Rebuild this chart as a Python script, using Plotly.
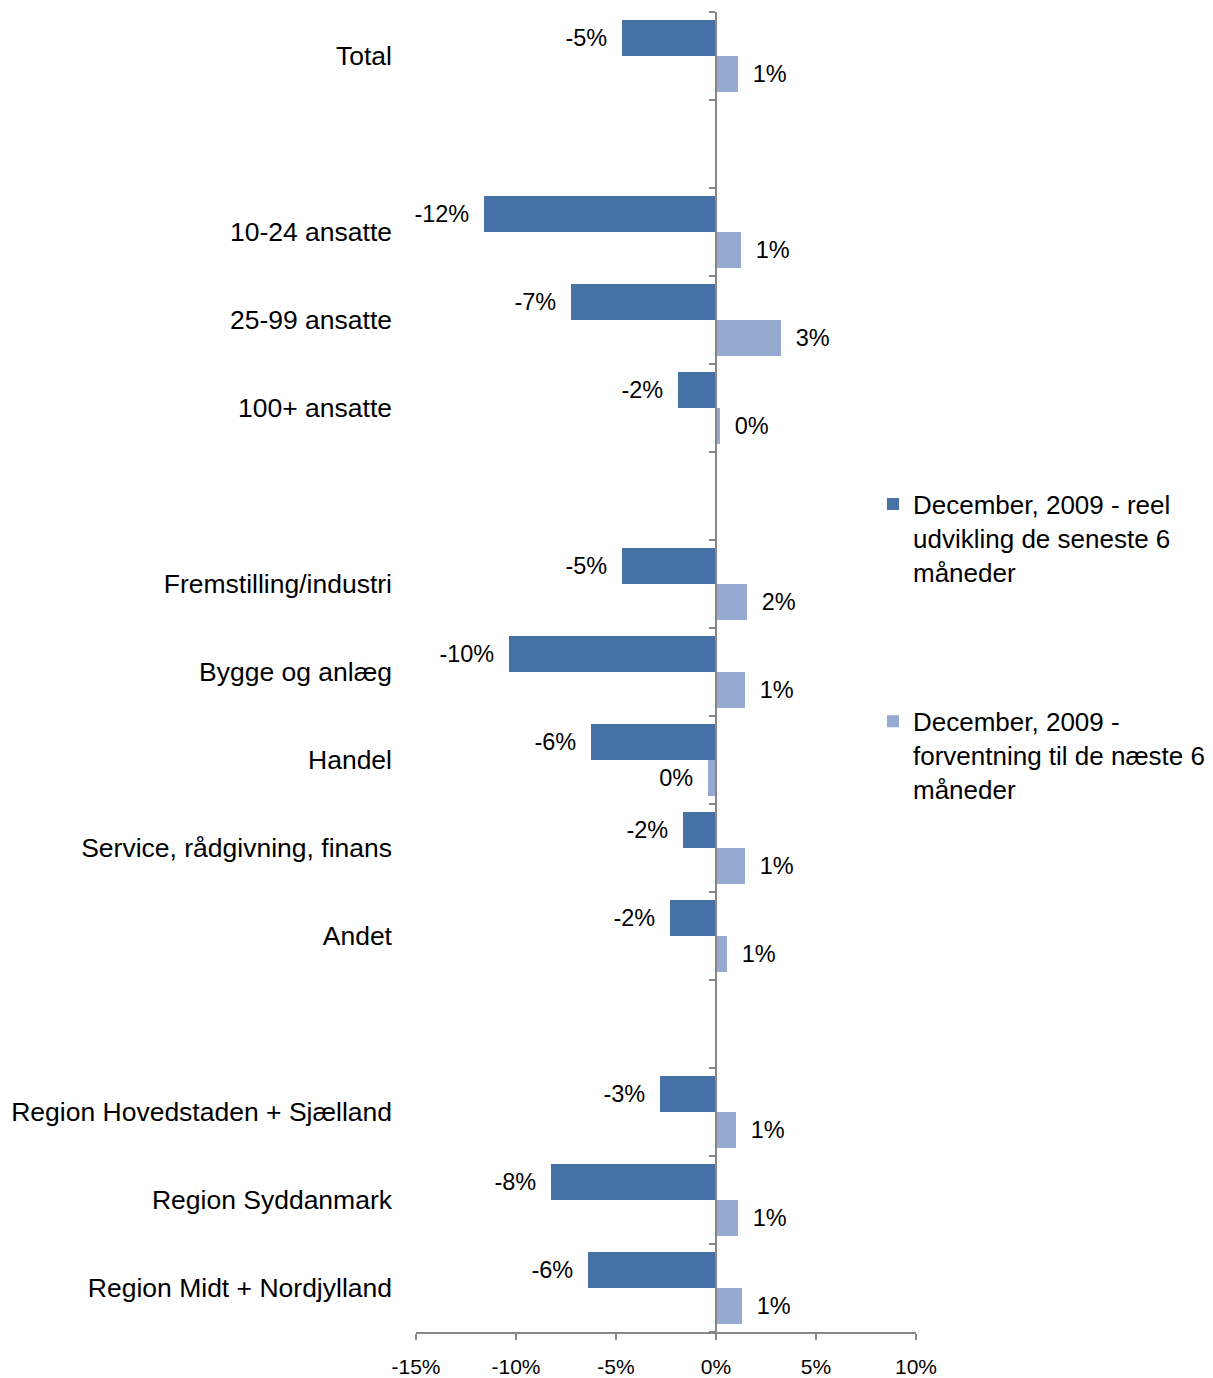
import plotly.graph_objects as go

# ---------------- data ----------------
categories = [
    "Total",
    "10-24 ansatte", "25-99 ansatte", "100+ ansatte",
    "Fremstilling/industri", "Bygge og anlæg", "Handel",
    "Service, rådgivning, finans", "Andet",
    "Region Hovedstaden + Sjælland", "Region Syddanmark",
    "Region Midt + Nordjylland",
]
gap_after = ["Total", "100+ ansatte", "Andet"]   # an empty row follows these

reel = [-4.7, -11.6, -7.25, -1.9, -4.7, -10.35, -6.25, -1.65, -2.3, -2.8, -8.25, -6.4]
forventning = [1.1, 1.25, 3.25, 0.2, 1.55, 1.45, -0.4, 1.45, 0.55, 1.0, 1.1, 1.3]

series_names = [
    "December, 2009 - reel<br>udvikling de seneste 6<br>måneder",
    "December, 2009 -<br>forventning til de næste 6<br>måneder",
]
x_ticks = [-15, -10, -5, 0, 5, 10]

# ---------------- styling ----------------
DARK = "#4672A7"
LIGHT = "#95A9D1"
AXIS = "#868686"
FONT = "Arial, Liberation Sans, sans-serif"

# rows with blank separators
rows, r_vals, f_vals = [], [], []
nblank = 0
for c, a, b in zip(categories, reel, forventning):
    rows.append(c); r_vals.append(a); f_vals.append(b)
    if c in gap_after:
        nblank += 1
        rows.append(" " * nblank); r_vals.append(None); f_vals.append(None)

PAD = "\u2002"


def label(v):
    if v is None:
        return ""
    s = f"{round(v)}%"
    return s + PAD if v < 0 else PAD + s


fig = go.Figure()
for vals, name, color, lg in [(r_vals, series_names[0], DARK, "legend"),
                              (f_vals, series_names[1], LIGHT, "legend2")]:
    fig.add_trace(go.Bar(
        y=rows, x=vals, name=name, orientation="h",
        marker=dict(color=color, line=dict(width=0)),
        text=[label(v) for v in vals],
        textposition="outside",
        textfont=dict(family=FONT, size=23.5, color="black"),
        outsidetextfont=dict(family=FONT, size=23.5, color="black"),
        constraintext="none", cliponaxis=False,
        legend=lg, hoverinfo="skip",
    ))

# empty helper trace so that the category axis drawn at x = 0 exists
fig.add_trace(go.Scatter(x=[], y=[], yaxis="y2", showlegend=False, hoverinfo="skip"))

xmin, xmax = x_ticks[0], x_ticks[-1]
zero_pos = (0 - xmin) / (xmax - xmin)
n = len(rows)

fig.update_layout(
    width=1213, height=1378,
    margin=dict(l=408, r=305, t=4, b=54, autoexpand=False),
    paper_bgcolor="white", plot_bgcolor="white",
    font=dict(family=FONT, color="black"),
    barmode="group", bargap=0.182, bargroupgap=0,
    showlegend=True,
    xaxis=dict(
        range=[xmin, xmax], tickvals=x_ticks, ticktext=[f"{v}%" for v in x_ticks],
        ticks="outside", ticklen=6, tickwidth=1.5, tickcolor=AXIS,
        showline=True, linecolor=AXIS, linewidth=1.5,
        showgrid=False, zeroline=False,
        tickfont=dict(family=FONT, size=21, color="black"),
        ticklabelstandoff=9,
        automargin=False, fixedrange=True,
    ),
    yaxis=dict(
        type="category", categoryorder="array", categoryarray=rows,
        range=[n - 0.5, -0.5],
        showline=False, ticks="", showgrid=False,
        tickfont=dict(family=FONT, size=26.5, color="black"),
        ticklabelstandoff=23,
        automargin=False, fixedrange=True,
    ),
    yaxis2=dict(
        overlaying="y", anchor="free", position=zero_pos, side="left",
        range=[n - 0.5, -0.5],
        tickvals=[i - 0.5 for i in range(n + 1)],
        ticks="outside", ticklen=6, tickwidth=1.5, tickcolor=AXIS,
        showline=True, linecolor=AXIS, linewidth=1.5,
        showticklabels=False, showgrid=False, zeroline=False,
        automargin=False, fixedrange=True,
    ),
    legend=dict(
        x=0.914, y=0.645, xanchor="left", yanchor="top",
        font=dict(family=FONT, size=26, color="black"),
        bgcolor="rgba(0,0,0,0)", valign="top",
    ),
    legend2=dict(
        x=0.914, y=0.4805, xanchor="left", yanchor="top",
        font=dict(family=FONT, size=26, color="black"),
        bgcolor="rgba(0,0,0,0)", valign="top",
    ),
)

fig.write_html("out.html")
